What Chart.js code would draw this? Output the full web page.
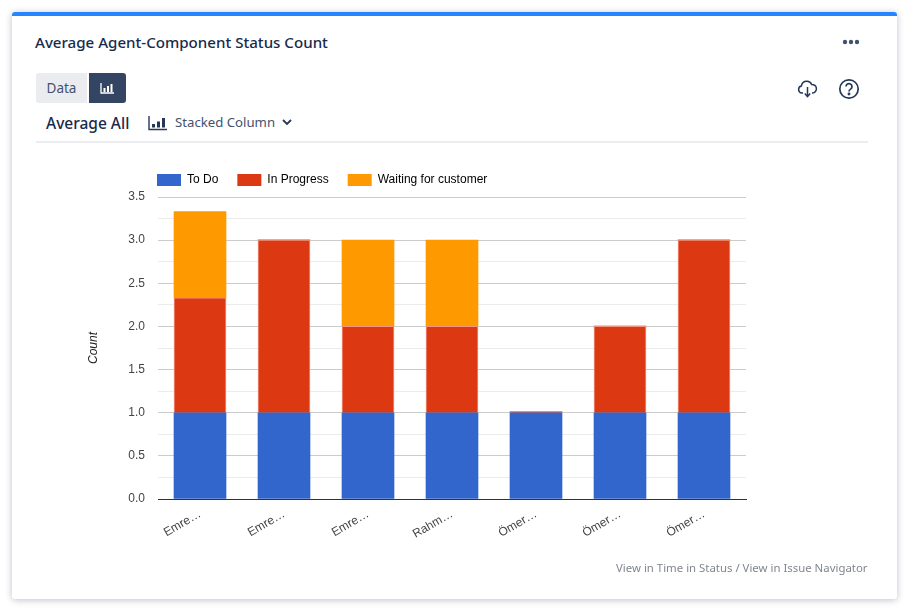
<!DOCTYPE html>
<html>
<head>
<meta charset="utf-8">
<title>Average Agent-Component Status Count</title>
<script src="https://cdn.jsdelivr.net/npm/chart.js@4"></script>
<style>
html, body { margin: 0; padding: 0; background: #fff; width: 908px; height: 610px; overflow: hidden; }
body { font-family: "Noto Sans", sans-serif; color: #253858; }
#card { position: absolute; left: 12px; top: 12px; width: 885px; height: 587px; background: #fff; border-radius: 3px; box-shadow: 0 1px 7px rgba(9,30,66,.28); }
#bar { position: absolute; left: 12px; top: 12px; width: 885px; height: 4px; background: #2684ff; border-radius: 3px 3px 0 0; }
.t { position: absolute; white-space: nowrap; line-height: 20px; }
#title { left: 35px; top: 32px; font-size: 15.1px; font-weight: 500; color: #172b4d; }
#btnData { position: absolute; left: 36px; top: 73px; width: 51px; height: 30px; background: #ebecf0; border-radius: 3px 0 0 3px; text-align: center; line-height: 30px; font-size: 13.5px; color: #42526e; }
#btnChart { position: absolute; left: 89px; top: 73px; width: 37px; height: 30px; background: #344563; border-radius: 0 3px 3px 0; }
#avg { left: 46px; top: 113px; font-size: 15.5px; font-weight: 500; color: #172b4d; }
#type { left: 175px; top: 112px; font-size: 13.2px; color: #42526e; }
#rule { position: absolute; left: 36px; top: 141px; width: 832px; height: 2px; background: #ebecf0; }
#links { left: 616px; top: 558px; font-size: 11.4px; color: #80868f; }
svg { position: absolute; }
canvas { position: absolute; left: 0; top: 0; }
</style>
</head>
<body>
<div id="card"></div>
<div id="bar"></div>
<div id="title" class="t">Average Agent-Component Status Count</div>

<svg style="left:842px;top:38px" width="18" height="8"><circle cx="3" cy="4" r="2.2" fill="#42526e"/><circle cx="9" cy="4" r="2.2" fill="#42526e"/><circle cx="15" cy="4" r="2.2" fill="#42526e"/></svg>

<div id="btnData">Data</div>
<div id="btnChart">
  <svg style="left:11px;top:9px" width="15" height="12"><path d="M1 1v10h13" fill="none" stroke="#fff" stroke-width="1.3"/><path d="M3.5 6h2v4h-2zM7 4h2v6H7zM10.5 2h2v8h-2z" fill="#fff"/></svg>
</div>

<svg style="left:797px;top:79px" width="21" height="20" fill="none" stroke="#253858" stroke-width="1.5"><path d="M6 14H5a3.6 3.6 0 0 1-.6-7.1A5.4 5.4 0 0 1 14.7 5.400a4.300 4.300 0 0 1 .8 8.600H15"/><path d="M10.500 8v9M7.800 14.500l2.700 3.200 2.700-3.200"/></svg>
<svg style="left:838px;top:78px" width="22" height="22" fill="none" stroke="#253858" stroke-width="1.7"><circle cx="11" cy="11" r="9.200"/><path d="M8 8.600a3 3 0 1 1 4.600 2.500c-1 .7-1.600 1.200-1.600 2.400"/><circle cx="11" cy="16" r=".6" fill="#253858"/></svg>

<div id="avg" class="t">Average All</div>
<svg style="left:148px;top:115px" width="20" height="16"><path d="M1 1v13.500h18" fill="none" stroke="#253858" stroke-width="1.400"/><path d="M4 9h3v3.500H4zM9 6.500h3v6H9zM14 3h3v9.500h-3z" fill="#253858"/></svg>
<div id="type" class="t">Stacked Column</div>
<svg style="left:282px;top:119px" width="10" height="7"><path d="M1 1l4 4 4-4" fill="none" stroke="#253858" stroke-width="1.800"/></svg>
<div id="rule"></div>

<canvas id="statusChart" width="908" height="610"></canvas>
<div id="links" class="t">View in Time in Status / View in Issue Navigator</div>

<script>
var agents = ['Emre…', 'Emre…', 'Emre…', 'Rahm…', 'Ömer…', 'Ömer…', 'Ömer…'];
var toDo = [1, 1, 1, 1, 1, 1, 1];
var inProgress = [1.33, 2, 1, 1, 0, 1, 2];
var waitingForCustomer = [1, 0, 1, 1, 0, 0, 0];
var yLabelEvery = 0.5;

var axisFont = { family: 'Liberation Sans', size: 12 };

// the legend sits over the plot area, not at the canvas edge
var moveLegend = {
    id: 'moveLegend',
    afterLayout: function (chart) {
        chart.legend.left = 138;
        chart.legend.top = 155;
    }
};

var ctx = document.getElementById('statusChart').getContext('2d');
var statusChart = new Chart(ctx, {
    type: 'bar',
    plugins: [moveLegend],
    data: {
        labels: agents,
        datasets: [
            { label: 'To Do', data: toDo, backgroundColor: '#3366cc', borderWidth: 0 },
            { label: 'In Progress', data: inProgress, backgroundColor: '#dc3912', borderColor: '#f0957f', borderWidth: 1, minBarLength: 1 },
            { label: 'Waiting for customer', data: waitingForCustomer, backgroundColor: '#ff9900', borderColor: '#ffd699', borderWidth: { bottom: 1 }, minBarLength: 1 }
        ]
    },
    options: {
        responsive: false,
        animation: false,
        barThickness: 52,
        layout: { padding: { left: 86, right: 162, top: 156, bottom: 0 } },
        plugins: {
            tooltip: { enabled: false },
            legend: {
                position: 'top',
                align: 'start',
                labels: { boxWidth: 24, boxHeight: 12, padding: 19, color: '#222', font: axisFont,
                    generateLabels: function (chart) {
                        return chart.data.datasets.map(function (ds, i) {
                            return { text: ds.label, fillStyle: ds.backgroundColor, strokeStyle: ds.backgroundColor, lineWidth: 0, datasetIndex: i };
                        });
                    }
                }
            }
        },
        scales: {
            x: {
                stacked: true,
                grid: { display: false },
                border: { display: true, color: '#333', z: 1 },
                ticks: { color: '#444', font: axisFont, minRotation: 30, maxRotation: 30, padding: 0, autoSkip: false },
                afterFit: function (scale) { scale.height = 111; }
            },
            y: {
                stacked: true,
                min: 0,
                max: 3.5,
                title: { display: true, text: 'Count', color: '#222', font: { family: 'Liberation Sans', size: 12, style: 'italic' }, padding: 0 },
                grid: {
                    drawTicks: false,
                    color: function (c) {
                        if (c.tick.value === 0) return '#333';
                        return c.tick.value % yLabelEvery === 0 ? '#cccccc' : '#ebebeb';
                    }
                },
                border: { display: false },
                ticks: {
                    stepSize: 0.25,
                    color: '#444',
                    font: axisFont,
                    padding: 13,
                    callback: function (v) { return v % yLabelEvery === 0 ? v.toFixed(1) : ''; }
                },
                afterFit: function (scale) { scale.width = 72; }
            }
        }
    }
});
</script>
</body>
</html>
